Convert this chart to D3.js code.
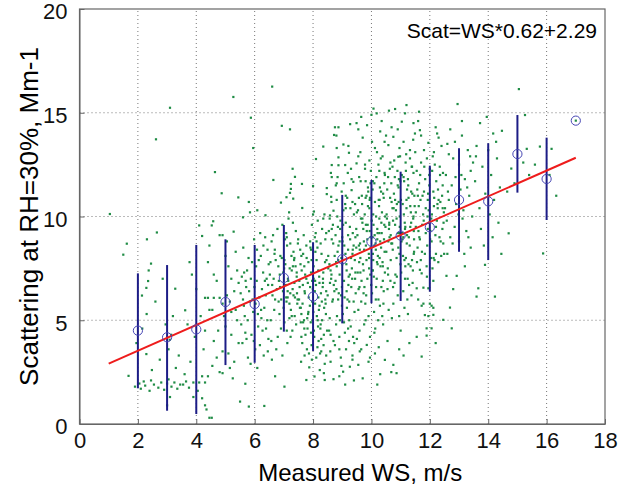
<!DOCTYPE html>
<html lang="en">
<head>
    <meta charset="UTF-8">
    <title>Scattering vs measured WS</title>
    <script type="text/javascript" src="https://d3js.org/d3.v7.min.js"></script>
    <style>
        body { margin: 0; background: #fff; }
        text { font-family: "Liberation Sans", Arial, sans-serif; }
    </style>
</head>
<body>
<svg width="622" height="490"></svg>
<script>
// bin statistics: wind speed bin, mean, mean - sd, mean + sd
var binWS   = [2, 3, 4, 5, 6, 7, 8, 9, 10, 11, 12, 13, 14, 15, 16, 17];
var binMean = [4.5, 4.18, 4.56, 5.88, 5.78, 7.04, 6.14, 7.94, 8.79, 9.08, 9.48, 10.8, 10.73, 13.01, 11.81, 14.62];
var binLow  = [1.72, 0.64, 0.48, 2.84, 2.95, 4.45, 3.52, 4.85, 5.82, 5.93, 6.38, 8.3, 7.9, 11.15, 9.83, 14.62];
var binHigh = [7.26, 7.66, 8.63, 8.9, 8.63, 9.59, 8.76, 11.04, 11.76, 12.16, 12.45, 13.29, 13.53, 14.89, 13.8, 14.62];

// fit: Scat = WS*0.62 + 2.29
var fitSlope = 0.62, fitOffset = 2.29, fitRange = [1, 17];

var xTicks = [0, 2, 4, 6, 8, 10, 12, 14, 16, 18];
var yTicks = [0, 5, 10, 15, 20];

// individual samples [WS, scattering], grouped by WS bin
var pts1to3 = [[1.04,10.12],[1.5,8.16],
[1.62,8.69],[1.68,2.32],[1.9,1.8],[2.05,1.95],[2.1,1.7],[2.2,2.05],[2.25,1.85],[2.31,8.9],[2.45,7.73],[2.37,7.4],[2.35,6.89],[2.29,6.56],[2.14,6.19],[2.29,3.37],[2.4,1.6],[2.45,2.1],[2.15,4.6],[1.95,3.9],[2.3,5.3],[2.48,2.6],
[2.65,9.23],[2.62,13.72],[3.1,15.24],[2.55,1.9],[2.7,1.75],[2.8,2.0],[2.9,1.65],[3.0,1.95],[3.05,2.15],[3.15,1.8],[3.25,2.0],[3.35,1.7],[3.45,1.9],[3.28,6.52],[3.09,4.06],[3.14,4.3],[3.05,3.6],[2.95,4.8],[3.2,5.2],[2.75,3.1],[3.3,2.7],[2.85,7.0],[3.4,3.3],[3.0,0.9],[3.1,1.3],[2.6,5.9]];

var pts4to5 = [[3.62,5.48],[3.85,7.2],[3.77,7.8],[3.55,1.9],[3.65,2.05],[3.75,1.75],[3.9,2.0],[3.6,2.4],[3.8,3.0],[4.2,9.06],[4.1,9.57],[4.3,6.08],[4.4,6.08],[4.15,5.2],[4.3,4.5],[4.05,1.6],[4.1,2.0],[4.3,2.0],[4.2,1.24],[4.3,0.9],[4.35,0.7],[4.45,0.3],[4.2,2.3],[4.4,2.3],[4.4,7.8],[4.45,8.6],[3.95,4.2],[4.25,3.6],[4.0,6.5],[3.7,4.8],[4.45,5.5],[3.9,1.3],
[4.53,9.57],[4.58,9.77],[4.64,12.14],[4.87,11.12],[5.44,10.92],[5.27,15.76],[4.8,9.1],[4.9,9.1],[5.28,9.27],[4.6,7.2],[4.7,6.9],[4.6,6.08],[4.8,6.08],[4.9,5.8],[4.55,5.5],[4.6,4.0],[4.9,3.5],[4.7,3.2],[4.55,2.8],[4.8,2.5],[4.9,2.45],[4.53,0.3],[5.0,8.1],[5.1,7.6],[5.2,7.0],[5.3,6.4],[5.05,6.2],[5.15,5.9],[5.35,5.5],[5.4,5.0],[5.0,4.7],[5.2,4.3],[5.45,3.9],[5.1,3.4],[5.3,3.0],[5.25,2.2],[5.5,1.08],[5.45,6.8],[5.05,8.8],[5.35,8.3],[4.95,5.2],[5.2,5.4],[4.75,4.5],[5.4,7.4],[5.15,2.7]];

var pts6 = [[5.87,14.76],[5.95,13.3],[5.6,9.96],[5.8,10.7],[5.84,10.2],[6.09,10.3],[6.37,10.06],[5.8,0.84],[6.33,0.87],[5.68,1.94],
[5.52,6.3],[5.91,7.8],[6.23,5.1],[6.44,8.4],[5.68,4.4],[6.07,6.9],[5.77,3.2],[6.38,6.2],[5.63,5.7],[6.12,4.7],[5.98,8.9],[6.29,7.3],[5.56,7.1],[6.47,4.1],[5.84,5.9],[6.19,9.2],[5.71,6.6],[6.02,3.6],[6.33,5.6],[5.61,8.5],[6.41,7.0],[5.89,4.3],[6.16,6.1],[5.74,7.4],[6.27,4.5],[5.95,5.4],[6.05,7.6],[5.58,3.9],[6.36,9.0],[5.81,6.4],[6.11,5.3],[6.46,6.7],[5.66,5.2],[6.21,8.1],[5.93,6.0],[6.31,3.3],[5.79,8.0],[6.09,2.7],[6.43,5.0],[5.54,4.8],[6.25,6.5],[5.87,7.0],[6.14,7.9],[5.69,6.9],[6.39,4.6],[5.97,4.0],[6.03,5.8],[6.48,7.7],[5.76,5.0],[6.18,3.8],[5.6,6.0],[6.35,6.9],[5.86,2.9],[6.22,5.5],[5.99,6.6],[6.3,8.6],[5.72,4.1],[6.08,8.4],[6.45,3.5],[5.64,7.3]];

var pts7 = [[6.6,16.26],[6.93,14.37],[7.21,14.2],[6.64,11.76],[7.3,12.3],[7.38,11.91],[7.24,11.57],[7.24,11.33],[7.21,11.14],[7.09,10.93],[7.32,10.86],[6.9,10.67],[7.02,1.8],[6.7,2.3],
[6.52,7.2],[6.88,8.1],[7.13,6.4],[7.41,9.3],[6.67,5.5],[7.05,7.7],[6.79,4.2],[7.36,6.8],[6.58,8.8],[7.19,5.1],[6.95,9.6],[7.27,7.4],[6.61,6.2],[7.46,5.8],[6.83,6.9],[7.11,8.6],[6.72,7.9],[7.02,4.9],[7.33,8.3],[6.55,5.0],[7.44,7.1],[6.91,6.0],[7.16,9.9],[6.76,6.5],[7.29,4.5],[6.98,7.3],[7.07,6.7],[6.63,9.1],[7.38,6.1],[6.85,5.3],[7.14,7.0],[6.69,8.4],[7.24,5.5],[6.93,8.0],[7.48,8.7],[6.57,4.0],[7.22,6.3],[6.81,7.6],[7.09,5.9],[6.74,3.6],[7.35,7.9],[6.97,6.4],[7.18,10.2],[6.65,7.0],[7.42,4.8],[6.9,4.6],[7.04,8.9],[7.3,6.5],[6.6,6.7],[7.12,3.9],[6.78,9.4],[7.26,8.1],[6.99,5.6],[7.45,6.3],[6.7,6.0],[7.2,7.5],[6.86,7.2],[7.08,6.1],[6.54,7.8],[7.37,5.2],[6.95,3.3],[7.15,6.9],[6.82,5.9],[7.31,9.7],[6.68,8.2],[7.01,7.5],[7.4,7.6],[6.59,3.1],[7.23,4.2],[6.87,6.6],[7.1,9.0]];

var pts8 = [[7.62,11.57],[7.63,10.41],[8.0,11.47],[8.1,12.77],[8.35,13.37],[8.47,11.37],[8.47,11.08],[8.35,9.9],[8.0,10.1],[8.03,10.24],
[7.52,6.0],[7.93,4.4],[8.21,7.1],[8.44,5.3],[7.66,8.2],[8.07,5.8],[7.79,3.6],[8.33,6.6],[7.58,4.9],[8.15,8.5],[7.97,6.9],[8.28,4.1],[7.61,7.4],[8.46,7.9],[7.84,5.4],[8.11,3.2],[7.72,6.3],[8.02,7.6],[8.36,3.8],[7.55,5.6],[8.42,6.0],[7.9,8.8],[8.17,4.7],[7.77,7.0],[8.29,8.2],[7.98,5.0],[8.06,6.4],[7.63,3.9],[8.38,5.6],[7.85,6.1],[8.13,5.2],[7.69,5.0],[8.24,3.4],[7.93,7.3],[8.48,4.5],[7.57,7.7],[8.22,6.8],[7.81,4.6],[8.09,9.2],[7.74,4.3],[8.35,7.3],[7.96,3.1],[8.18,6.1],[7.65,6.7],[8.42,8.9],[7.89,5.7],[8.04,4.2],[8.31,5.0],[7.6,5.3],[8.12,7.9],[7.78,8.0],[8.26,4.8],[7.99,6.5],[8.45,6.4],[7.7,4.6],[8.2,5.5],[7.86,3.4],[8.08,8.3],[7.54,6.6],[8.37,4.3],[7.95,7.9],[8.15,3.7],[7.82,6.8],[8.31,9.4],[7.68,9.1],[8.01,5.4],[8.4,2.9],[7.59,3.0],[8.23,2.6],[7.87,2.73],[8.05,2.29],[8.37,2.45],[7.77,2.12],[8.4,2.12],[7.92,4.9],[8.19,4.0],[7.73,7.2],[8.27,6.3],[7.97,5.9],[8.43,5.8],[7.64,5.8],[8.1,6.7],[7.8,5.1],[8.34,7.0],[7.56,8.4],[8.16,9.8],[7.91,8.5],[8.28,3.5],[7.71,3.3],[8.03,4.5]];

var pts9 = [[8.8,13.9],[8.72,13.93],[8.61,12.1],[8.64,11.9],[8.81,10.8],[8.7,10.28],[8.58,10.05],[8.87,12.47],[8.81,11.6],[8.81,13.3],[8.7,2.16],[9.03,2.52],[9.26,2.76],[8.9,2.3],[9.1,1.9],[9.4,2.1],[8.6,3.0],[9.35,3.3],
[8.52,8.1],[8.93,9.4],[9.21,6.7],[9.44,10.6],[8.66,5.9],[9.07,8.6],[8.79,4.8],[9.33,7.5],[8.57,9.9],[9.16,5.6],[8.98,11.2],[9.27,8.9],[8.62,7.0],[9.46,6.3],[8.84,8.3],[9.12,9.7],[8.73,6.4],[9.02,5.3],[9.36,9.2],[8.55,4.5],[9.43,7.9],[8.91,7.2],[9.17,10.9],[8.77,9.1],[9.29,4.7],[8.97,8.0],[9.06,6.9],[8.63,10.7],[9.39,5.9],[8.86,6.0],[9.14,7.7],[8.69,8.7],[9.24,5.0],[8.94,9.8],[9.48,8.5],[8.58,6.8],[9.22,7.1],[8.81,7.6],[9.09,4.4],[8.75,3.8],[9.35,8.2],[8.96,6.2],[9.19,12.1],[8.64,8.9],[9.42,5.4],[8.9,4.2],[9.04,10.3],[9.31,6.6],[8.6,7.4],[9.13,3.6],[8.78,11.5],[9.26,9.5],[8.99,5.7],[9.45,7.3],[8.71,6.7],[9.2,8.4],[8.86,7.9],[9.08,6.1],[8.54,9.3],[9.37,4.2],[8.95,3.2],[9.15,7.4],[8.82,5.2],[9.32,11.8],[8.68,9.6],[9.01,8.8],[9.4,10.1],[8.59,3.5],[9.23,4.0],[8.87,8.6],[9.1,10.6],[9.04,13.47],[9.27,14.45],[9.49,14.5],[9.21,13.4],[8.64,12.48],[9.1,12.48],[8.87,12.85],[9.23,13.07],[9.49,12.56],[8.84,11.9],[8.62,10.95],[9.32,11.27],[9.38,11.67],[8.75,14.3],[8.87,14.3],[9.0,9.0],[9.3,8.0],[8.8,6.5],[9.45,9.0],[8.56,7.7],[9.18,6.0],[8.92,5.0],[9.34,7.0],[8.7,4.0],[9.06,4.9],[9.41,3.9],[8.83,10.0],[9.28,10.4],[8.97,2.8],[9.12,11.0]];

var pts10 = [[10.07,15.2],[10.0,14.9],[10.18,14.97],[9.55,14.2],[9.7,13.8],[9.85,14.4],[10.3,14.1],[10.45,13.6],[9.62,13.1],[10.12,13.3],[9.93,12.7],[10.38,12.9],[9.78,12.3],[10.24,12.5],[10.46,12.0],[9.58,11.9],[10.05,11.7],[9.88,11.4],[10.33,11.2],
[9.55,2.85],[9.9,3.0],[9.95,3.2],[10.12,3.4],[9.84,3.81],[10.46,3.09],[10.3,2.4],[9.7,2.2],[10.2,1.9],[9.6,3.5],
[9.52,9.1],[9.93,10.4],[10.21,7.7],[10.44,11.6],[9.66,6.9],[10.07,9.6],[9.79,5.8],[10.33,8.5],[9.57,10.9],[10.16,6.6],[9.98,12.2],[10.27,9.9],[9.62,8.0],[10.46,7.3],[9.84,9.3],[10.12,10.7],[9.73,7.4],[10.02,6.3],[10.36,10.2],[9.55,5.5],[10.43,8.9],[9.91,8.2],[10.17,11.9],[9.77,10.1],[10.29,5.7],[9.97,9.0],[10.06,7.9],[9.63,11.7],[10.39,6.9],[9.86,7.0],[10.14,8.7],[9.69,9.7],[10.24,6.0],[9.94,10.8],[10.48,9.5],[9.58,7.8],[10.22,8.1],[9.81,8.6],[10.09,5.4],[9.75,4.8],[10.35,9.2],[9.96,7.2],[10.19,13.1],[9.64,9.9],[10.42,6.4],[9.9,5.2],[10.04,11.3],[10.31,7.6],[9.6,8.4],[10.13,4.6],[9.78,12.5],[10.26,10.5],[9.99,6.7],[10.45,8.3],[9.71,7.7],[10.2,9.4],[9.86,8.9],[10.08,7.1],[9.54,10.3],[10.37,5.2],[9.95,4.2],[10.15,8.4],[9.82,6.2],[10.32,12.8],[9.68,10.6],[10.01,9.8],[10.4,11.1],[9.59,4.5],[10.23,5.0],[9.87,9.6],[10.1,11.6],[9.74,8.8],[10.28,8.0],[9.92,7.5],[10.47,10.0],[9.56,6.5],[10.18,7.0],[9.8,10.9],[10.34,6.6],[9.65,5.9],[10.05,8.2],[10.41,5.8],[9.89,11.2],[10.11,9.1],[9.72,9.4],[10.25,10.8],[9.97,8.5],[10.44,9.6],[9.61,8.7],[10.15,6.0],[9.83,7.9],[10.3,8.8],[9.53,7.3],[10.06,10.1],[9.76,6.6],[10.38,7.8],[9.94,9.3],[10.2,8.9],[9.67,11.0],[10.03,7.4],[10.27,9.2]];

var pts11 = [[10.81,15.18],[11.2,15.37],[11.15,14.97],[10.69,14.3],[11.04,14.57],[11.44,14.5],[10.75,13.84],[10.58,13.44],[11.32,13.2],[10.92,12.88],[11.49,14.0],[11.1,13.6],[10.65,12.6],[11.38,12.4],
[10.75,2.85],[10.86,2.45],[10.68,2.5],[11.1,3.3],[11.3,3.9],[10.95,3.6],
[10.52,10.1],[10.93,11.4],[11.21,8.7],[11.44,12.1],[10.66,7.9],[11.07,10.6],[10.79,6.8],[11.33,9.5],[10.57,11.9],[11.16,7.6],[10.98,12.9],[11.27,10.9],[10.62,9.0],[11.46,8.3],[10.84,10.3],[11.12,11.7],[10.73,8.4],[11.02,7.3],[11.36,11.2],[10.55,6.5],[11.43,9.9],[10.91,9.2],[11.17,12.6],[10.77,11.1],[11.29,6.7],[10.97,10.0],[11.06,8.9],[10.63,12.3],[11.39,7.9],[10.86,8.0],[11.14,9.7],[10.69,10.7],[11.24,7.0],[10.94,11.8],[11.48,10.5],[10.58,8.8],[11.22,9.1],[10.81,9.6],[11.09,6.4],[10.75,5.8],[11.35,10.2],[10.96,8.2],[11.19,13.0],[10.64,10.9],[11.42,7.4],[10.9,6.2],[11.04,12.0],[11.31,8.6],[10.6,9.4],[11.13,5.6],[10.78,12.7],[11.26,11.5],[10.99,7.7],[11.45,9.3],[10.71,8.7],[11.2,10.4],[10.86,9.9],[11.08,8.1],[10.54,11.3],[11.37,6.2],[10.95,5.2],[11.15,9.4],[10.82,7.2],[11.32,12.8],[10.68,11.6],[11.01,10.8],[11.4,11.1],[10.59,5.5],[11.23,6.0],[10.87,10.6],[11.1,11.9],[10.74,9.8],[11.28,9.0],[10.92,8.5],[11.47,11.0],[10.56,7.5],[11.18,8.0],[10.8,11.9],[11.34,7.6],[10.65,6.9],[11.05,9.2],[11.41,6.8],[10.89,12.2],[11.11,10.1],[10.72,10.4],[11.25,11.8],[10.97,9.5],[11.44,10.0],[10.61,9.7],[11.15,7.0]];

var pts12 = [[11.63,15.05],[11.66,14.16],[11.95,13.55],[12.2,14.3],[12.3,13.8],[11.8,13.2],[12.1,12.9],[12.4,13.4],[11.7,12.6],[12.0,12.3],[12.45,12.1],
[11.66,7.43],[11.89,7.6],[11.72,7.26],[11.55,6.54],[11.78,6.57],[11.95,6.54],[11.6,6.0],[11.72,5.7],[11.78,5.8],[12.0,5.8],[12.06,5.7],[12.12,5.6],[11.83,5.25],[11.95,5.2],[12.12,5.26],[11.89,4.61],[12.06,4.61],[11.55,4.2],[11.89,4.26],[11.72,3.25],[12.46,5.02],[12.2,3.9],
[11.52,9.5],[11.93,10.8],[12.21,8.2],[12.44,11.5],[11.66,8.9],[12.07,10.1],[11.79,9.8],[12.33,9.0],[11.57,11.3],[12.16,7.9],[11.98,12.0],[12.27,10.4],[11.62,10.5],[12.46,8.7],[11.84,11.8],[12.12,11.2],[11.73,8.3],[12.02,9.3],[12.36,10.7],[11.55,12.2],[12.43,9.4],[11.91,8.6],[12.17,12.5],[11.77,10.1],[12.29,7.8],[11.97,9.7],[12.06,8.8],[11.63,11.6],[12.39,8.1],[11.86,9.2],[12.14,10.5],[11.69,7.9],[12.24,9.8],[11.94,11.1],[12.48,10.2],[11.58,8.5],[12.22,11.7],[11.81,12.4],[12.09,7.5],[11.75,11.0],[12.35,12.0],[11.96,10.3],[12.19,9.1],[11.64,9.0],[12.42,11.0],[11.9,7.1],[12.04,8.0]];

var pts13up = [[12.95,15.42],[12.7,14.2],[13.1,13.9],[12.6,13.5],[13.3,13.2],[12.8,12.8],[13.0,12.5],[13.4,12.2],[12.55,12.0],[13.2,11.8],[12.75,11.5],[13.05,11.3],[13.35,11.0],[12.65,10.8],[12.9,10.6],[13.15,10.3],[13.45,10.0],[12.58,9.8],[12.85,9.5],[13.25,9.3],[12.7,9.0],[13.0,8.8],[13.4,8.5],[12.6,8.2],[12.92,7.14],[12.57,7.14],[12.69,5.61],[12.75,4.61],[13.2,7.6],[12.8,6.5],[13.1,14.6],[12.65,13.0],[13.38,12.9],[12.88,11.9],[13.12,9.9],[12.52,10.4],[13.28,11.4],[12.98,10.1],[13.48,12.6],[12.78,8.7],[13.08,12.0],[12.62,11.2],[13.32,9.0],[12.86,13.6],[13.18,8.2],
[13.72,14.5],[14.17,14.0],[13.89,7.67],[13.66,6.54],[13.6,6.14],[14.23,6.14],[13.6,13.4],[14.0,13.2],[14.3,12.8],[13.8,12.4],[14.1,12.0],[13.55,11.7],[14.4,11.4],[13.9,11.1],[14.2,10.8],[13.7,10.4],[14.05,10.1],[14.35,9.7],[13.75,9.4],[14.15,9.0],[13.85,8.6],[14.45,8.2],[13.58,12.9],[14.27,13.6],[13.95,14.8],
[14.7,9.19],[14.47,14.13],[14.79,12.31],[15.05,16.14],[15.26,14.89],[15.32,13.26],[14.9,11.6],[15.2,12.6],[15.4,12.0],[14.65,11.2],
[15.77,13.37],[16.17,13.26],[16.33,11.0],[15.88,8.22],[15.6,12.5],[16.1,12.0],[17.0,14.62]];

// extra samples filling the dense core (WS 7-12.5)
var ptsCore = [[7.02,7.9],[7.27,5.2],[7.49,8.9],[7.71,6.4],[7.96,9.6],[8.18,7.4],[8.39,10.1],[8.63,7.2],[8.85,9.5],[9.11,8.2],[9.35,10.7],[9.57,8.6],[9.83,11.0],[10.04,9.0],[10.29,11.4],[10.51,8.3],[10.76,10.4],[10.98,9.2],[11.22,11.3],[11.46,8.9],[11.68,10.8],[11.93,9.4],[12.15,10.9],[12.37,8.8],
[7.13,6.1],[7.36,8.0],[7.58,5.6],[7.84,7.8],[8.07,6.9],[8.26,8.7],[8.5,6.2],[8.74,8.1],[8.99,6.6],[9.2,9.1],[9.44,7.0],[9.69,9.9],[9.92,8.0],[10.16,10.0],[10.39,7.6],[10.61,9.6],[10.87,7.1],[11.09,9.0],[11.33,10.5],[11.56,7.8],[11.8,11.2],[12.01,8.9],[12.26,10.6],[12.47,9.7],
[7.08,9.2],[7.31,7.6],[7.53,6.9],[7.77,8.6],[8.02,7.0],[8.22,5.7],[8.45,9.2],[8.68,6.0],[8.91,8.8],[9.15,6.4],[9.39,8.6],[9.62,7.3],[9.88,10.5],[10.1,8.6],[10.34,9.7],[10.57,7.2],[10.81,10.8],[11.03,8.8],[11.27,7.7],[11.52,10.2],[11.74,9.6],[11.98,11.5],[12.21,9.5],[12.44,10.4],
[7.19,5.8],[7.44,7.3],[7.66,4.9],[7.9,6.6],[8.12,8.8],[8.34,6.8],[8.57,5.1],[8.79,7.8],[9.03,9.6],[9.26,7.2],[9.5,10.2],[9.75,8.4],[9.97,11.6],[10.21,9.2],[10.45,12.1],[10.68,8.7],[10.93,10.7],[11.16,9.5],[11.39,12.4],[11.61,9.3],[11.86,10.4],[12.08,12.2],[12.3,10.8],[12.12,6.9],
[7.1,4.5],[7.33,6.2],[7.6,8.1],[7.83,5.3],[8.06,9.0],[8.3,5.9],[8.52,7.5],[8.77,6.9],[9.0,7.7],[9.24,5.9],[9.48,9.4],[9.73,6.3],[9.95,10.9],[10.19,7.8],[10.42,10.9],[10.66,9.1],[10.9,11.5],[11.13,7.9],[11.36,9.7],[11.59,11.0],[11.83,8.2],[12.05,9.9],[12.28,11.3],[12.49,8.2],
[7.22,8.7],[7.47,6.0],[7.7,7.6],[7.93,8.4],[8.16,5.0],[8.41,7.8],[8.64,9.4],[8.88,6.3],[9.12,10.4],[9.36,8.4],[9.59,6.6],[9.81,9.6],[10.05,7.4],[10.28,10.8],[10.53,9.9],[10.74,6.6],[10.99,11.7],[11.2,10.8],[11.45,8.2],[11.67,12.0],[11.92,10.0],[12.13,8.0],[12.34,12.4],[11.5,13.1],
[9.05,11.6],[9.3,12.3],[9.55,12.9],[9.8,11.7],[10.02,13.6],[10.27,12.2],[10.5,13.9],[10.72,12.4],[10.96,13.3],[11.18,12.2],[11.43,13.7],[11.7,13.9],[11.9,12.8],[12.14,13.1],[10.35,14.6],[10.6,15.1],[9.65,14.8],[10.9,14.2],[11.6,14.6],[12.25,14.0],
[7.6,4.2],[7.95,3.8],[8.25,4.6],[8.6,4.3],[8.9,3.6],[9.2,4.6],[9.5,4.1],[9.8,5.0],[10.1,4.4],[10.4,4.8],[10.7,5.1],[11.0,4.5],[11.25,5.3],[9.35,3.1],[9.65,3.6],[10.25,3.7],[8.45,3.3],[10.55,4.0]];

var points = [].concat(pts1to3, pts4to5, pts6, pts7, pts8, pts9, pts10, pts11, pts12, pts13up, ptsCore);

var svg = d3.select("svg");
var margin = {left: 79.5, right: 17, top: 9, bottom: 66};
var width = +svg.attr("width"), height = +svg.attr("height");

var x = d3.scaleLinear().domain([0, 18]).range([margin.left, width - margin.right]);
var y = d3.scaleLinear().domain([0, 20]).range([height - margin.bottom, margin.top]);

// dotted grid
var grid = svg.append("g");
grid.selectAll(".gx")
    .data(xTicks.slice(1, -1))
    .enter().append("line")
    .attr("x1", d => x(d)).attr("x2", d => x(d))
    .attr("y1", y(0)).attr("y2", y(20))
    .attr("stroke", "#777").attr("stroke-width", 1)
    .attr("stroke-dasharray", "1,3");
grid.selectAll(".gy")
    .data(yTicks.slice(1, -1))
    .enter().append("line")
    .attr("x1", x(0)).attr("x2", x(18))
    .attr("y1", d => y(d)).attr("y2", d => y(d))
    .attr("stroke", "#777").attr("stroke-width", 1)
    .attr("stroke-dasharray", "1,3");

// box
svg.append("rect")
    .attr("x", x(0)).attr("y", y(20))
    .attr("width", x(18) - x(0)).attr("height", y(0) - y(20))
    .attr("fill", "none").attr("stroke", "#666").attr("stroke-width", 1.2);

// axes (matlab style, ticks inside)
var xAxis = svg.append("g")
    .attr("transform", "translate(0," + y(0) + ")")
    .call(d3.axisBottom(x).tickValues(xTicks).tickSizeInner(-5).tickSizeOuter(0).tickPadding(8));
var yAxis = svg.append("g")
    .attr("transform", "translate(" + x(0) + ",0)")
    .call(d3.axisLeft(y).tickValues(yTicks).tickSizeInner(-5).tickSizeOuter(0).tickPadding(12));
[xAxis, yAxis].forEach(function (g) {
    g.select(".domain").attr("stroke", "#666");
    g.selectAll(".tick line").attr("stroke", "#666");
    g.selectAll("text").attr("fill", "#111").style("font-size", "22px")
        .style("font-family", "'Liberation Sans', Arial, sans-serif");
});
yAxis.selectAll("text").attr("dy", "0.45em");

// scatter
svg.append("g").selectAll("rect")
    .data(points)
    .enter().append("rect")
    .attr("x", d => x(d[0]) - 1.1)
    .attr("y", d => y(d[1]) - 1.1)
    .attr("width", 2.2).attr("height", 2.2)
    .attr("fill", "#1f8c45");

// error bars
svg.append("g").selectAll("line")
    .data(binWS)
    .enter().append("line")
    .attr("x1", d => x(d)).attr("x2", d => x(d))
    .attr("y1", (d, i) => y(binLow[i])).attr("y2", (d, i) => y(binHigh[i]))
    .attr("stroke", "#1c1c86").attr("stroke-width", 2);

// fit line
svg.append("line")
    .attr("x1", x(fitRange[0])).attr("y1", y(fitRange[0] * fitSlope + fitOffset))
    .attr("x2", x(fitRange[1])).attr("y2", y(fitRange[1] * fitSlope + fitOffset))
    .attr("stroke", "#ee1c1c").attr("stroke-width", 2);

// bin means
svg.append("g").selectAll("circle")
    .data(binWS)
    .enter().append("circle")
    .attr("cx", d => x(d))
    .attr("cy", (d, i) => y(binMean[i]))
    .attr("r", 4.6)
    .attr("fill", "none")
    .attr("stroke", "#4646b4").attr("stroke-width", 1);

// labels
svg.append("text")
    .attr("x", 597).attr("y", 38)
    .attr("text-anchor", "end")
    .style("font-size", "21px")
    .text("Scat=WS*0.62+2.29");

svg.append("text")
    .attr("x", (x(0) + x(18)) / 2 + 18).attr("y", 481)
    .attr("text-anchor", "middle")
    .style("font-size", "24px")
    .text("Measured WS, m/s");

svg.append("text")
    .attr("transform", "translate(38," + ((y(0) + y(20)) / 2) + ") rotate(-90)")
    .attr("text-anchor", "middle")
    .style("font-size", "26px")
    .text("Scattering at RH=30%, Mm-1");
</script>
</body>
</html>
